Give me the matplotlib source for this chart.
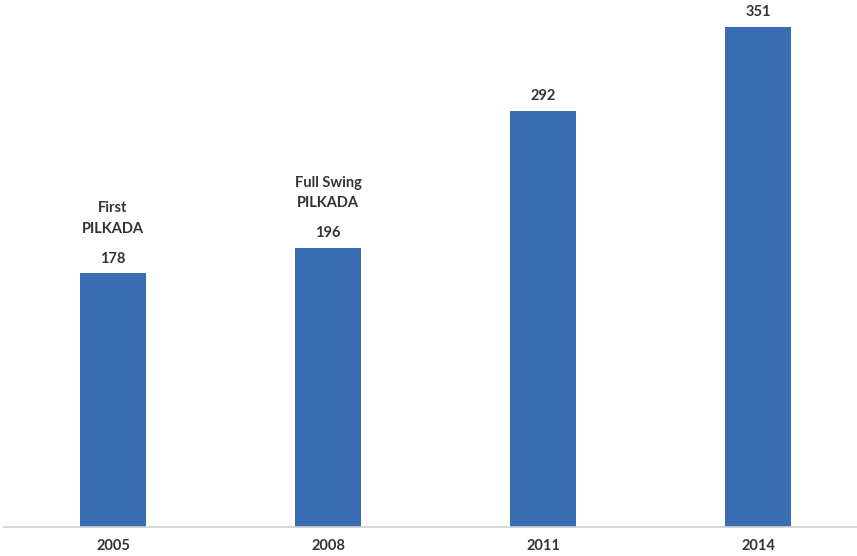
import matplotlib.pyplot as plt

# data
years = ["2005", "2008", "2011", "2014"]
seats = [178, 196, 292, 351]
notes = ["First\nPILKADA", "Full Swing\nPILKADA", "", ""]

bar_color = "#3a6cb4"
text_color = "#333333"

fig = plt.figure(figsize=(8.57, 5.56), dpi=100)
ax = fig.add_axes([4 / 857, 29 / 556, 853 / 857, 527 / 556])

x = list(range(len(years)))
ax.bar(x, seats, width=0.31, color=bar_color, zorder=2)

# value labels and notes above the bars
for i, (v, note) in enumerate(zip(seats, notes)):
    ax.annotate(str(v), (i, v), xytext=(0, 5.5), textcoords="offset points",
                ha="center", va="bottom", fontsize=10.5, fontweight="bold",
                color=text_color, family="Lato")
    if note:
        ax.annotate(note, (i, v), xytext=(0, 27), textcoords="offset points",
                    ha="center", va="bottom", fontsize=10.5, fontweight="bold",
                    color=text_color, family="Lato", linespacing=1.6)

ax.set_xlim(-0.507, 3.46)
ax.set_ylim(0, 370)
ax.set_xticks(x)
ax.set_xticklabels(years, fontsize=10.5, fontweight="bold", color=text_color,
                   family="Lato")
ax.tick_params(axis="x", length=0, pad=9)
ax.set_yticks([])

for side in ["top", "right", "left"]:
    ax.spines[side].set_visible(False)
ax.spines["bottom"].set_color("#d0d0d0")
ax.spines["bottom"].set_linewidth(1.2)

fig.savefig("out.png", dpi=100)
